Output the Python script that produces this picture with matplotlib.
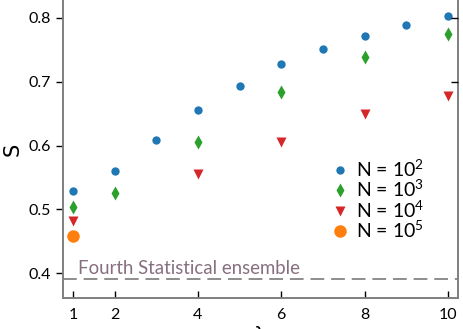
import matplotlib
matplotlib.use("Agg")
import matplotlib.pyplot as plt

plt.rcParams['font.family'] = ['Lato', 'DejaVu Sans']
plt.rcParams['mathtext.fontset'] = 'custom'
plt.rcParams['mathtext.rm'] = 'Lato'
plt.rcParams['mathtext.it'] = 'Lato:italic'

# entropy S vs lambda for different system sizes
lam_1e2 = [1, 2, 3, 4, 5, 6, 7, 8, 9, 10]
s_1e2 = [0.529, 0.560, 0.609, 0.656, 0.694, 0.727, 0.752, 0.772, 0.789, 0.803]
lam_1e3 = [1, 2, 4, 6, 8, 10]
s_1e3 = [0.504, 0.526, 0.605, 0.684, 0.738, 0.775]
lam_1e4 = [1, 4, 6, 8, 10]
s_1e4 = [0.482, 0.555, 0.606, 0.650, 0.678]
lam_1e5 = [1]
s_1e5 = [0.458]

ensemble_level = 0.391
xticks = [1, 2, 4, 6, 8, 10]
yticks = [0.4, 0.5, 0.6, 0.7, 0.8]

fig = plt.figure(figsize=(4.63, 3.29), dpi=100)
ax = fig.add_axes([0.136, 0.094, 0.853, 0.906])

ax.plot(lam_1e2, s_1e2, 'o', color='#1f77b4', ms=6, mec='none', label='N = 10$^{2}$')
ax.plot(lam_1e3, s_1e3, 'd', color='#2ca02c', ms=7, mec='none', label='N = 10$^{3}$')
ax.plot(lam_1e4, s_1e4, 'v', color='#d62728', ms=6.5, mec='none', label='N = 10$^{4}$')
ax.plot(lam_1e5, s_1e5, 'o', color='#ff7f0e', ms=9, mec='none', label='N = 10$^{5}$')

ax.axhline(ensemble_level, color='#6f6f6f', lw=1.1, ls=(0, (9, 4.5)))
ax.text(1.12, ensemble_level + 0.003, 'Fourth Statistical ensemble',
        color='#866f7e', fontsize=13.4, va='bottom', ha='left')

ax.set_xlim(0.76, 10.24)
ax.set_ylim(0.361, 0.828)
ax.set_xticks(xticks)
ax.set_yticks(yticks)
ax.set_xticklabels([str(v) for v in xticks])
ax.set_yticklabels(['%.1f' % v for v in yticks])
ax.tick_params(axis='x', direction='in', length=5, width=1, labelsize=11.5, pad=7)
ax.tick_params(axis='y', direction='out', length=5, width=1, labelsize=11.5)

for side in ['left', 'bottom', 'right']:
    ax.spines[side].set_color('#7f7f7f')
    ax.spines[side].set_linewidth(1.4)
ax.spines['top'].set_visible(False)

# inner ticks on the right side
ax2 = ax.twinx()
ax2.set_ylim(ax.get_ylim())
ax2.set_yticks([0.7, 0.8])
ax2.set_yticklabels([])
ax2.tick_params(axis='y', direction='in', length=5, width=1)
for side in ['left', 'bottom', 'top', 'right']:
    ax2.spines[side].set_visible(False)

ax.set_ylabel('S', fontsize=15, family='DejaVu Sans', labelpad=4)
ax.set_xlabel('λ', fontsize=15, labelpad=2)

ax.legend(loc='center left', bbox_to_anchor=(0.63, 0.33), frameon=False,
          fontsize=14, handletextpad=0.25, labelspacing=-0.04, handlelength=1.1)

fig.savefig('out.png', dpi=100)
